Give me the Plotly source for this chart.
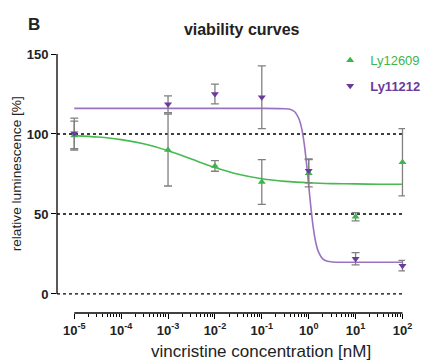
import numpy as np
import plotly.graph_objects as go

# ---------------- data ----------------
conc_nM = [1e-5, 1e-3, 1e-2, 1e-1, 1, 10, 100]

ly12609_mean = [99.0, 90.0, 80.0, 70.0, 75.5, 48.3, 82.3]
ly12609_err = [9.0, 22.5, 3.3, 14.0, 8.5, 2.6, 21.0]

ly11212_mean = [100.4, 118.6, 125.0, 123.0, 77.0, 22.0, 17.7]
ly11212_err = [9.5, 5.2, 6.2, 19.6, 7.5, 3.8, 3.3]

# fitted curves (log10 concentration, value)
ly12609_fit_logx = [-5, -4.5, -4, -3.5, -3, -2.5, -2, -1.5, -1, -0.5, 0, 0.5, 1, 1.5, 2]
ly12609_fit_y = [99.0, 98.1, 96.5, 93.7, 89.5, 84.3, 79.0, 74.8, 72.0, 70.4, 69.5, 69.0, 68.8, 68.6, 68.6]

ly11212_fit_logx = [-5, -4, -3, -2, -1, -0.5, -0.4, -0.3, -0.2, -0.15, -0.1, -0.05, 0,
                    0.05, 0.1, 0.15, 0.2, 0.3, 0.4, 0.5, 1, 1.5, 2]
ly11212_fit_y = [116.0, 116.0, 116.0, 116.0, 116.0, 115.8, 115.4, 113.9, 108.9, 103.5, 94.9, 82.6, 67.9,
                 53.2, 41.0, 32.3, 26.9, 21.9, 20.4, 20.0, 19.8, 19.8, 19.8]

x_tick_exponents = [-5, -4, -3, -2, -1, 0, 1, 2]
y_tick_vals = [0, 50, 100, 150]
ref_lines = [0, 50, 100]

# ---------------- style ----------------
FONT = "Liberation Sans, Arial, Helvetica, sans-serif"
GREEN = "#3cb64a"
GREEN_LINE = "#45bb4f"
PURPLE = "#6a3a9c"
PURPLE_LINE = "#9a72c2"
ERR = "#808080"

# page body has an 8px margin, so the figure is laid out 8px smaller
W, H = 428, 356
L, T, R, B = 49, 46, 10, 51
PW, PH = W - L - R, H - T - B

x_range_log = [-5.368, 2.054]
y_range = [-11.9, 150]

fig = go.Figure()

fig.add_trace(go.Scatter(
    x=10 ** np.array(ly12609_fit_logx), y=ly12609_fit_y, mode="lines",
    line=dict(color=GREEN_LINE, width=1.6, shape="spline", smoothing=0.8),
    showlegend=False, hoverinfo="skip"))
fig.add_trace(go.Scatter(
    x=10 ** np.array(ly11212_fit_logx), y=ly11212_fit_y, mode="lines",
    line=dict(color=PURPLE_LINE, width=1.6, shape="spline", smoothing=0.6),
    showlegend=False, hoverinfo="skip"))

fig.add_trace(go.Scatter(
    x=conc_nM, y=ly12609_mean, mode="markers",
    name=f"<span style='color:{GREEN}'>Ly12609</span>",
    marker=dict(symbol="triangle-up", size=7, color=GREEN),
    error_y=dict(type="data", array=ly12609_err, color=ERR, thickness=1.3, width=4),
    cliponaxis=False, legend="legend"))
fig.add_trace(go.Scatter(
    x=conc_nM, y=ly11212_mean, mode="markers",
    name=f"<span style='color:{PURPLE}'><b>Ly11212</b></span>",
    marker=dict(symbol="triangle-down", size=7, color=PURPLE),
    error_y=dict(type="data", array=ly11212_err, color=ERR, thickness=1.3, width=4),
    cliponaxis=False, legend="legend2"))

shapes = []
for v in ref_lines:
    shapes.append(dict(type="line", xref="x", yref="y",
                       x0=10 ** x_range_log[0], x1=10 ** x_tick_exponents[-1], y0=v, y1=v,
                       line=dict(color="black", width=1.3, dash="dot"), layer="below"))
# y axis line (0..150)
shapes.append(dict(type="line", xref="paper", yref="y", x0=0, x1=0,
                   y0=y_tick_vals[0], y1=y_tick_vals[-1], line=dict(color="black", width=1.3)))
# offset x axis line (1e-5 .. 1e2)
shapes.append(dict(type="line", xref="x", yref="paper",
                   x0=10 ** x_tick_exponents[0], x1=10 ** x_tick_exponents[-1], y0=0, y1=0,
                   line=dict(color="black", width=1.3)))

minor_vals = [m * 10 ** e for e in x_tick_exponents[:-1] for m in range(2, 10)]

legend_x = 0.785
leg1_y = 1 - (62.7 - 8 - T - 17.5) / PH
leg2_y = 1 - (88.3 - 8 - T - 17.5) / PH

fig.update_layout(
    width=W, height=H,
    margin=dict(l=L, r=R, t=T, b=B),
    plot_bgcolor="white", paper_bgcolor="white",
    font=dict(family=FONT, size=13, color="#222"),
    title=dict(text="<b>viability curves</b>", x=233.7 / W, xref="container", y=1 - 21 / H,
               yref="container", xanchor="center", yanchor="middle",
               font=dict(size=16, color="#222")),
    xaxis=dict(type="log", range=x_range_log, showline=False, showgrid=False, zeroline=False,
               tickmode="array", tickvals=[10 ** e for e in x_tick_exponents],
               ticktext=[f"<b>10<sup>{e}</sup></b>" for e in x_tick_exponents],
               ticks="outside", ticklen=5, tickwidth=1.3, tickcolor="black",
               tickfont=dict(size=13, color="#222"),
               minor=dict(tickvals=minor_vals, ticks="outside", ticklen=3, tickwidth=1,
                          tickcolor="black", showgrid=False)),
    yaxis=dict(range=y_range, showline=False, showgrid=False, zeroline=False,
               tickmode="array", tickvals=y_tick_vals,
               ticktext=[f"<b>{v}</b>" for v in y_tick_vals],
               ticks="outside", ticklen=5, tickwidth=1.3, tickcolor="black",
               tickfont=dict(size=13, color="#222")),
    shapes=shapes,
    legend=dict(x=legend_x, y=leg1_y, xanchor="left", yanchor="top",
                bgcolor="rgba(0,0,0,0)", font=dict(size=13), itemwidth=30),
    legend2=dict(x=legend_x, y=leg2_y, xanchor="left", yanchor="top",
                 bgcolor="rgba(0,0,0,0)", font=dict(size=13), itemwidth=30),
    annotations=[
        dict(text="<b>B</b>", xref="paper", yref="paper", x=(25 - L) / PW, y=1 + (T - 16) / PH,
             xanchor="center", yanchor="middle", showarrow=False, font=dict(size=17, color="#222")),
        dict(text="relative luminescence [%]", xref="paper", yref="y", x=(7 - L) / PW, y=75,
             textangle=-90, xanchor="center", yanchor="middle", showarrow=False,
             font=dict(size=13.7, color="#222")),
        dict(text="vincristine concentration [nM]", xref="paper", yref="paper",
             x=(265.5 - L) / PW, y=-(343.7 - (H - B)) / PH, xanchor="center", yanchor="middle",
             showarrow=False, font=dict(size=17, color="#222")),
    ],
)

fig.write_html("out.html")
